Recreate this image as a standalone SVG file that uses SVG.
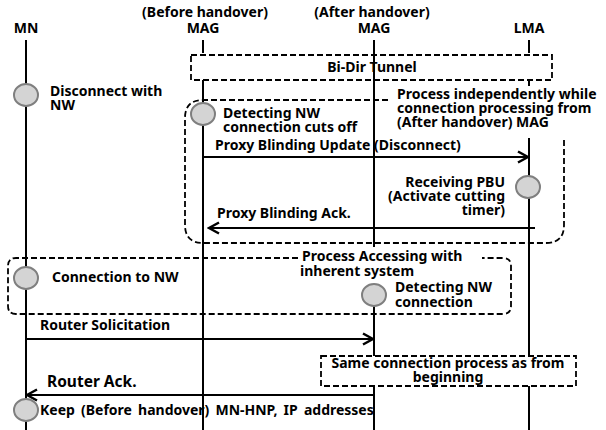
<svg xmlns="http://www.w3.org/2000/svg" width="606" height="430" viewBox="0 0 606 430">
<style>
text{font-family:"Noto Sans","Liberation Sans",sans-serif;font-weight:bold;font-size:14px;fill:#000}
.mid{text-anchor:middle}
.end{text-anchor:end}
.life{stroke:#000;stroke-width:2;fill:none}
.msg{stroke:#000;stroke-width:2;fill:none}
.dash{stroke:#000;stroke-width:1.8;stroke-dasharray:6 3;fill:none}
.act{fill:#d4d4d4;stroke:#7f7f7f;stroke-width:2}
</style>
<defs>
<marker id="arr" markerUnits="userSpaceOnUse" markerWidth="14" markerHeight="14" refX="12" refY="7" orient="auto">
<path d="M2,1.5 L12,7 L2,12.5" fill="none" stroke="#000" stroke-width="2.5"/>
</marker>
</defs>
<rect width="606" height="430" fill="#fff"/>
<g id="headers">
<text x="205" y="17" class="mid">(Before handover)</text>
<text x="372" y="17" class="mid">(After handover)</text>
<text x="26" y="33" class="mid">MN</text>
<text x="203" y="33" class="mid">MAG</text>
<text x="374" y="33" class="mid">MAG</text>
<text x="529" y="33" class="mid">LMA</text>
</g>
<g id="lifelines">
<path class="life" d="M26,40 V430"/>
<path class="life" d="M203,40 V53 M203,80 V430"/>
<path class="life" d="M374,40 V247 M374,284 V356 M374,386 V430"/>
<path class="life" d="M529,40 V53 M529,80 V86 M529,138 V356 M529,386 V430"/>
</g>
<g id="tunnel">
<rect class="dash" x="191" y="55" width="361" height="25"/>
<text x="372" y="72" class="mid">Bi-Dir Tunnel</text>
</g>
<g id="box-independent">
<path class="dash" d="M388,100 H203 Q185,100 185,118 V225 Q185,243 203,243 H546 Q564,243 564,225 V138"/>
<text x="397" y="99">Process independently while</text>
<text x="397" y="113">connection processing from</text>
<text x="397" y="127">(After handover) MAG</text>
</g>
<g id="box-access">
<path class="dash" d="M298,258 H16 Q8,258 8,266 V306 Q8,314 16,314 H503 Q511,314 511,306 V266 Q511,258 503,258 H482"/>
<text x="302" y="261">Process Accessing with</text>
<text x="300" y="276">inherent system</text>
</g>
<g id="box-same">
<rect class="dash" x="321" y="356" width="255" height="30" style="fill:#fff"/>
<text x="448" y="368" class="mid">Same connection process as from</text>
<text x="448" y="382" class="mid">beginning</text>
</g>
<g id="connectors">
<path class="msg" d="M203,157 H528" marker-end="url(#arr)"/>
<path class="msg" d="M535,228 H209" marker-end="url(#arr)"/>
<path class="msg" d="M26,339 H373" marker-end="url(#arr)"/>
<path class="msg" d="M374,395 H27" marker-end="url(#arr)"/>
</g>
<g id="labels">
<text x="215" y="150">Proxy Blinding Update (Disconnect)</text>
<text x="217" y="218">Proxy Blinding Ack.</text>
<text x="40" y="330">Router Solicitation</text>
<text x="47" y="387" style="font-size:15.5px">Router Ack.</text>
</g>
<g id="mn-disconnect">
<ellipse class="act" cx="26" cy="95" rx="12" ry="11"/>
<text x="50" y="96">Disconnect with</text>
<text x="50" y="110">NW</text>
</g>
<g id="mag1-detect">
<ellipse class="act" cx="203" cy="114" rx="12" ry="11"/>
<text x="223" y="118">Detecting NW</text>
<text x="223" y="132">connection cuts off</text>
</g>
<g id="lma-receive">
<ellipse class="act" cx="528" cy="187" rx="12" ry="11"/>
<text x="505" y="187" class="end">Receiving PBU</text>
<text x="505" y="201" class="end">(Activate cutting</text>
<text x="505" y="215" class="end">timer)</text>
</g>
<g id="mn-connect">
<ellipse class="act" cx="26" cy="278" rx="12" ry="11"/>
<text x="52" y="282">Connection to NW</text>
</g>
<g id="mag2-detect">
<ellipse class="act" cx="374" cy="295" rx="12" ry="11"/>
<text x="395" y="292">Detecting NW</text>
<text x="395" y="307">connection</text>
</g>
<g id="mn-keep">
<ellipse class="act" cx="26" cy="410" rx="12" ry="11"/>
<text x="40" y="415" style="word-spacing:2.5px">Keep (Before handover) MN-HNP, IP addresses</text>
</g>
</svg>
